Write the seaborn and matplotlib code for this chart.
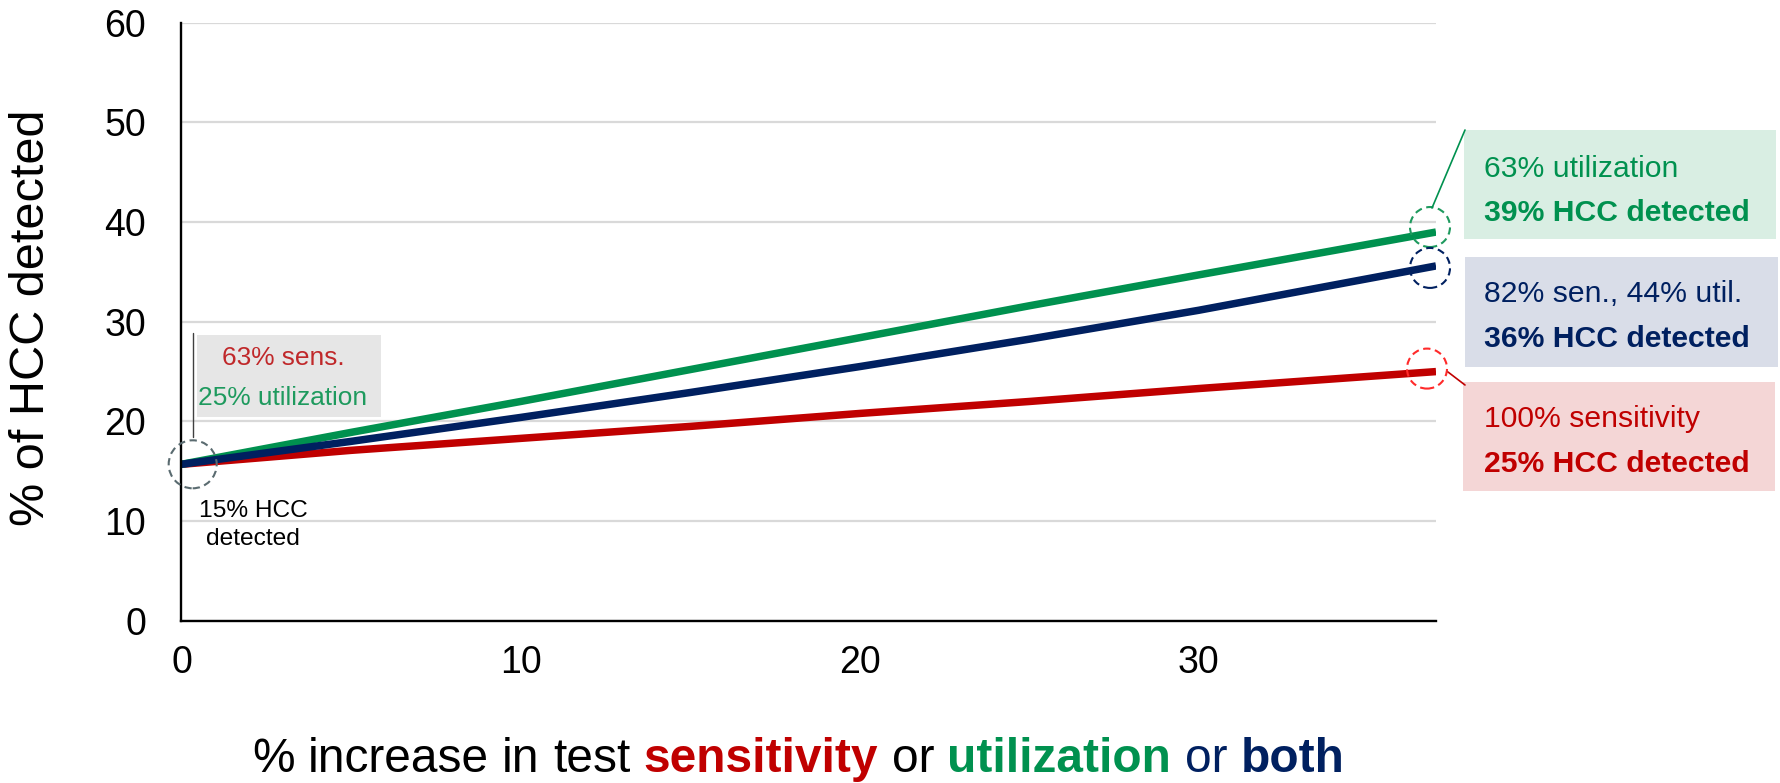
import matplotlib
matplotlib.use("Agg")
import matplotlib.pyplot as plt
import matplotlib.patches as mpatches
import matplotlib.transforms as mtransforms
from matplotlib.lines import Line2D
from matplotlib import font_manager
import pandas as pd
import seaborn as sns

# ---- data -------------------------------------------------------------
increase = [0, 5, 10, 15, 20, 25, 30, 37]
sens_only = [15.7, 17.1, 18.3, 19.5, 20.8, 22.0, 23.3, 25.0]
util_only = [15.7, 18.9, 22.0, 25.2, 28.4, 31.6, 34.7, 39.0]
both = [15.7, 18.0, 20.4, 22.9, 25.5, 28.25, 31.15, 35.6]

scenarios = ["sensitivity", "utilization", "both"]
scenario_colors = ["#C00000", "#00914F", "#002060"]

x_ticks = [0, 10, 20, 30]
y_ticks = [0, 10, 20, 30, 40, 50, 60]

end_notes = [
    ("63% utilization", "39% HCC detected"),
    ("82% sen., 44% util.", "36% HCC detected"),
    ("100% sensitivity", "25% HCC detected"),
]
start_note = ("63% sens.", "25% utilization")
origin_note = ("15% HCC", "detected")

# ---- style ------------------------------------------------------------
sns.set_theme(style="white")
plt.rcParams["font.family"] = ["Liberation Sans", "DejaVu Sans"]

installed = {f.name for f in font_manager.fontManager.ttflist}
if "Liberation Sans Narrow" in installed:
    NOTE_FAMILY, NOTE_SCALE = ["Liberation Sans Narrow", "Liberation Sans"], 1.0
else:
    NOTE_FAMILY, NOTE_SCALE = ["Liberation Sans", "DejaVu Sans"], 0.85

W, H = 1781, 783
fig = plt.figure(figsize=(W / 100, H / 100), dpi=100)
fig.patch.set_facecolor("white")


def fx(px):
    return px / W


def fy(py):
    return 1 - py / H


ax = fig.add_axes([fx(181.5), fy(620.8), fx(1436) - fx(181.5), fy(22.7) - fy(620.8)])

df = pd.DataFrame({
    "increase": increase * 3,
    "detected": sens_only + util_only + both,
    "scenario": [s for s in scenarios for _ in increase],
})

sns.lineplot(data=df, x="increase", y="detected", hue="scenario",
             hue_order=scenarios, palette=scenario_colors,
             linewidth=5.4, legend=False, ax=ax)
for ln in ax.lines:
    ln.set_solid_capstyle("butt")
    ln.set_solid_joinstyle("round")

ax.set_xlim(0, 37)
ax.set_ylim(0, 60)
ax.set_xticks(x_ticks)
ax.set_yticks(y_ticks)
ax.set_xlabel("")
ax.set_ylabel("")
for side in ("top", "right"):
    ax.spines[side].set_visible(False)
for side in ("left", "bottom"):
    ax.spines[side].set_color("black")
    ax.spines[side].set_linewidth(1.7)
ax.yaxis.grid(True, color="#d9d9d9", linewidth=1.6)
ax.xaxis.grid(False)
ax.set_axisbelow(True)
ax.tick_params(axis="both", direction="out", length=9.4, width=1.4,
               colors="black", labelsize=27)
ax.tick_params(axis="x", pad=8)
ax.tick_params(axis="y", pad=16)

fig.text(fx(31.7), fy(318), "% of HCC detected", rotation=90,
         ha="center", va="center", fontsize=35, color="black")


# ---- dashed rings at the ends of the curves ------------------------------
def ring(xd, yd, r_px, color, dx=0.0, dy=0.0):
    trans = fig.dpi_scale_trans + mtransforms.ScaledTranslation(xd, yd, ax.transData)
    c = mpatches.Circle((dx / 100, dy / 100), radius=r_px / 100, transform=trans,
                        fill=False, edgecolor=color, linewidth=1.5,
                        linestyle=(0, (3.5, 2.2)), clip_on=False, zorder=5)
    ax.add_artist(c)


ring(increase[-1], util_only[-1], 20, "#1E9A5E", dx=-6, dy=5)
ring(increase[-1], both[-1], 20, "#002060", dx=-6, dy=-2)
ring(increase[-1], sens_only[-1], 20, "#FF2A2A", dx=-9, dy=3)
ring(0.33, sens_only[0], 24, "#5A6B70")


# ---- annotation boxes ---------------------------------------------------
def box(x0, y0, x1, y1, color):
    fig.patches.append(mpatches.Rectangle((fx(x0), fy(y1)), fx(x1) - fx(x0),
                                          fy(y0) - fy(y1), transform=fig.transFigure,
                                          facecolor=color, edgecolor="none", zorder=0))


def leader(x0, y0, x1, y1, color, lw=1.2):
    fig.add_artist(Line2D([fx(x0), fx(x1)], [fy(y0), fy(y1)], color=color,
                          linewidth=lw, transform=fig.transFigure))


right_size = 25.5 * NOTE_SCALE
box(1464, 130, 1776, 239, "#D9EEE3")
box(1465, 257, 1778, 367, "#D9DDE8")
box(1463, 382, 1775, 491, "#F4D6D6")

note_colors = ["#00914F", "#002060", "#C00000"]
baselines = [(176.7, 221.0), (301.7, 346.7), (426.7, 471.7)]
for (l1, l2), col, (b1, b2) in zip(end_notes, note_colors, baselines):
    fig.text(fx(1484), fy(b1), l1, color=col, fontsize=right_size,
             family=NOTE_FAMILY, ha="left", va="baseline")
    fig.text(fx(1484), fy(b2), l2, color=col, fontsize=right_size,
             family=NOTE_FAMILY, fontweight="bold", ha="left", va="baseline")

leader(1432, 208, 1465, 130, "#00914F")
leader(1448, 372, 1465, 385, "#C00000")

# starting-point notes
box(197, 335, 381, 417, "#E6E6E6")
left_size = 23 * 0.82 if NOTE_SCALE < 1 else 23
fig.text(fx(283), fy(365), start_note[0], color="#C0282A", fontsize=left_size,
         family=NOTE_FAMILY, ha="center", va="baseline")
fig.text(fx(283), fy(405), start_note[1], color="#1E9A5E", fontsize=left_size,
         family=NOTE_FAMILY, ha="center", va="baseline")
leader(192.7, 436.7, 192.7, 333, "#404040", lw=1.0)
origin_size = 21 * 0.84 if NOTE_SCALE < 1 else 21
fig.text(fx(253), fy(516.7), origin_note[0], color="black", fontsize=origin_size,
         family=NOTE_FAMILY, ha="center", va="baseline")
fig.text(fx(253), fy(545), origin_note[1], color="black", fontsize=origin_size,
         family=NOTE_FAMILY, ha="center", va="baseline")

# ---- multi-coloured x-axis title ----------------------------------------
pieces = [
    ("%", "black", "normal"), ("increase", "black", "normal"),
    ("in", "black", "normal"), ("test", "black", "normal"),
    ("sensitivity", "#C00000", "bold"), ("or", "black", "normal"),
    ("utilization", "#00914F", "bold"), ("or", "#002060", "normal"),
    ("both", "#002060", "bold"),
]
title_size = 34.5
renderer = fig.canvas.get_renderer()
space_px = 0.278 * title_size * 100 / 72
texts, widths = [], []
for word, col, wt in pieces:
    t = fig.text(0, fy(772), word, color=col, fontweight=wt, fontsize=title_size,
                 ha="left", va="baseline")
    texts.append(t)
    widths.append(t.get_window_extent(renderer).width)
total = sum(widths) + space_px * (len(pieces) - 1)
x = 798 - total / 2
for t, w in zip(texts, widths):
    t.set_x(fx(x))
    x += w + space_px

fig.savefig("out.png", dpi=100, facecolor="white")
